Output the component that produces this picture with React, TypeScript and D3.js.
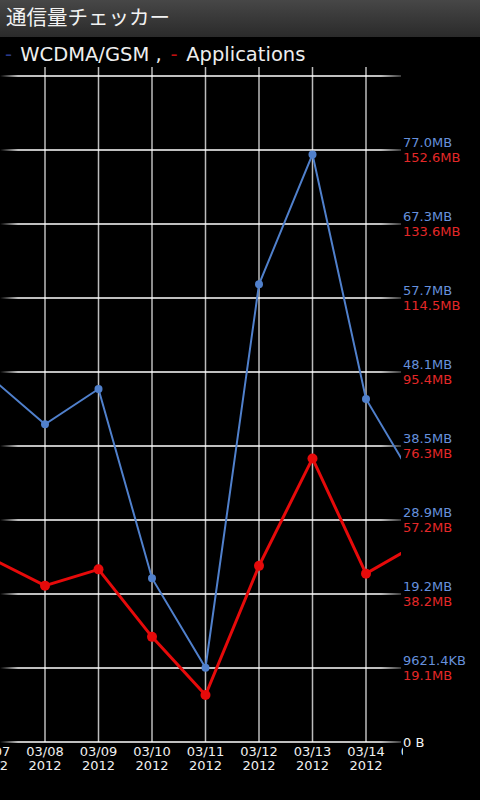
import React, { useRef, useEffect } from 'react';
import * as d3 from 'd3';

// dates on the x axis (first and last are only partly visible)
const dates = ['03/07', '03/08', '03/09', '03/10', '03/11', '03/12', '03/13', '03/14', '03/15'];
const years = ['2012', '2012', '2012', '2012', '2012', '2012', '2012', '2012', '2012'];

// daily traffic in MB (1 MB = 1000 KB)
const wcdmaValues = [47.3, 41.3, 45.9, 21.3, 9.66, 59.5, 76.4, 44.6, 32.9];
const appValues = [47.3, 40.3, 44.5, 27.1, 12.1, 45.4, 73.1, 43.4, 51.3];

// right axis labels, one per grid line from the bottom
const wcdmaTicks = ['', '9621.4KB', '19.2MB', '28.9MB', '38.5MB', '48.1MB', '57.7MB', '67.3MB', '77.0MB', ''];
const appTicks = ['0 B', '19.1MB', '38.2MB', '57.2MB', '76.3MB', '95.4MB', '114.5MB', '133.6MB', '152.6MB', ''];
const wcdmaStep = 9.6214;
const appStep = 19.075;

const title = '通信量チェッカー';

const BLUE = '#5080cc';
const RED = '#e60a0a';

const App: React.FC = () => {
    const svgRef = useRef<SVGSVGElement | null>(null);
    const width = 480;
    const height = 800;
    const plot = { left: 0, right: 401, top: 76, bottom: 742 };

    useEffect(() => {
        document.body.style.margin = '0';
        document.body.style.background = '#000';
        if (!svgRef.current) return;

        const svg = d3.select(svgRef.current);
        svg.selectAll('*').remove();
        svg.attr('viewBox', `0 0 ${width} ${height}`);

        const font = "'DejaVu Sans', sans-serif";

        const x = d3.scaleLinear()
            .domain([0, dates.length - 1])
            .range([-8.5, 419.5]);

        const nGrid = wcdmaTicks.length - 1;
        const yBlue = d3.scaleLinear()
            .domain([0, nGrid * wcdmaStep])
            .range([plot.bottom, plot.top]);
        const yRed = d3.scaleLinear()
            .domain([0, nGrid * appStep])
            .range([plot.bottom, plot.top]);

        const defs = svg.append('defs');
        const tg = defs.append('linearGradient').attr('id', 'titlebar')
            .attr('x1', 0).attr('y1', 0).attr('x2', 0).attr('y2', 1);
        tg.append('stop').attr('offset', 0).attr('stop-color', '#474747');
        tg.append('stop').attr('offset', 1).attr('stop-color', '#2a2a2a');

        const gg = defs.append('linearGradient').attr('id', 'gridfade')
            .attr('gradientUnits', 'userSpaceOnUse')
            .attr('x1', plot.left).attr('x2', plot.right).attr('y1', 0).attr('y2', 0);
        gg.append('stop').attr('offset', 0).attr('stop-color', '#fff').attr('stop-opacity', 0);
        gg.append('stop').attr('offset', 0.045).attr('stop-color', '#fff').attr('stop-opacity', 1);
        gg.append('stop').attr('offset', 0.95).attr('stop-color', '#fff').attr('stop-opacity', 1);
        gg.append('stop').attr('offset', 1).attr('stop-color', '#fff').attr('stop-opacity', 0.3);

        defs.append('clipPath').attr('id', 'plot-clip')
            .append('rect')
            .attr('x', plot.left).attr('y', 0)
            .attr('width', plot.right - plot.left).attr('height', height);
        defs.append('clipPath').attr('id', 'label-clip')
            .append('rect')
            .attr('x', 0).attr('y', 0)
            .attr('width', 403).attr('height', height);

        // Background
        svg.append('rect').attr('width', width).attr('height', height).attr('fill', '#000');

        // Title bar
        svg.append('rect').attr('width', width).attr('height', 37).attr('fill', 'url(#titlebar)');
        svg.append('text')
            .attr('x', 6).attr('y', 25)
            .attr('fill', '#f2f2f2')
            .attr('font-family', "'Noto Sans CJK JP', sans-serif")
            .attr('font-size', 20.5)
            .text(title);

        // Legend
        const legend = svg.append('text')
            .attr('x', 5).attr('y', 61)
            .attr('font-family', font)
            .attr('font-size', 19.5)
            .attr('fill', '#eee');
        legend.append('tspan').attr('fill', '#2a3a8a').text('-');
        legend.append('tspan').attr('dx', 9).text('WCDMA/GSM ,');
        legend.append('tspan').attr('dx', 9).attr('fill', '#c01010').text('-');
        legend.append('tspan').attr('dx', 9).text('Applications');

        // Grid
        const grid = svg.append('g').attr('clip-path', 'url(#plot-clip)');
        grid.selectAll('line.vgrid')
            .data(dates)
            .join('line')
            .attr('class', 'vgrid')
            .attr('x1', (_, i) => x(i)).attr('x2', (_, i) => x(i))
            .attr('y1', 67).attr('y2', plot.bottom)
            .attr('stroke', '#bdbdbd')
            .attr('stroke-width', 1.5);
        grid.selectAll('line.hgrid')
            .data(d3.range(nGrid + 1))
            .join('line')
            .attr('class', 'hgrid')
            .attr('x1', plot.left).attr('x2', plot.right)
            .attr('y1', d => yBlue(d * wcdmaStep)).attr('y2', d => yBlue(d * wcdmaStep))
            .attr('stroke', 'url(#gridfade)')
            .attr('stroke-width', 1.5);

        // Right axis labels (empty slots are skipped)
        const blueLabels = wcdmaTicks.map((label, i) => ({ label, i })).filter(d => d.label);
        const redLabels = appTicks.map((label, i) => ({ label, i })).filter(d => d.label);
        const axis = svg.append('g').attr('font-family', font).attr('font-size', 13);
        axis.selectAll('text.blue')
            .data(blueLabels)
            .join('text')
            .attr('class', 'blue')
            .attr('x', 403)
            .attr('y', d => yBlue(d.i * wcdmaStep) - 3.5)
            .attr('fill', '#6690dc')
            .text(d => d.label);
        axis.selectAll('text.red')
            .data(redLabels)
            .join('text')
            .attr('class', 'red')
            .attr('x', 403)
            .attr('y', d => d.i === 0 ? yRed(0) + 5 : yRed(d.i * appStep) + 12)
            .attr('fill', d => d.i === 0 ? '#f4f4f4' : '#e42828')
            .text(d => d.label);

        // Date labels
        const xl = svg.append('g')
            .attr('clip-path', 'url(#label-clip)')
            .attr('font-family', font)
            .attr('font-size', 13)
            .attr('fill', '#f0f0f0')
            .attr('text-anchor', 'middle');
        xl.selectAll('text.date')
            .data(dates)
            .join('text')
            .attr('class', 'date')
            .attr('x', (_, i) => x(i)).attr('y', 756)
            .text(d => d);
        xl.selectAll('text.year')
            .data(years)
            .join('text')
            .attr('class', 'year')
            .attr('x', (_, i) => x(i)).attr('y', 769.5)
            .text(d => d);

        // Series
        const chart = svg.append('g').attr('clip-path', 'url(#plot-clip)');
        const blueLine = d3.line<number>().x((_, i) => x(i)).y(d => yBlue(d));
        const redLine = d3.line<number>().x((_, i) => x(i)).y(d => yRed(d));

        chart.append('path')
            .datum(wcdmaValues)
            .attr('d', blueLine)
            .attr('fill', 'none')
            .attr('stroke', BLUE)
            .attr('stroke-width', 2);
        chart.selectAll('circle.blue')
            .data(wcdmaValues)
            .join('circle')
            .attr('class', 'blue')
            .attr('cx', (_, i) => x(i)).attr('cy', d => yBlue(d))
            .attr('r', 4)
            .attr('fill', BLUE);

        chart.append('path')
            .datum(appValues)
            .attr('d', redLine)
            .attr('fill', 'none')
            .attr('stroke', RED)
            .attr('stroke-width', 3);
        chart.selectAll('circle.red')
            .data(appValues)
            .join('circle')
            .attr('class', 'red')
            .attr('cx', (_, i) => x(i)).attr('cy', d => yRed(d))
            .attr('r', 5)
            .attr('fill', RED);
    }, []);

    return <svg ref={svgRef} width={width} height={height} style={{ display: 'block' }}></svg>;
};

export default App;
